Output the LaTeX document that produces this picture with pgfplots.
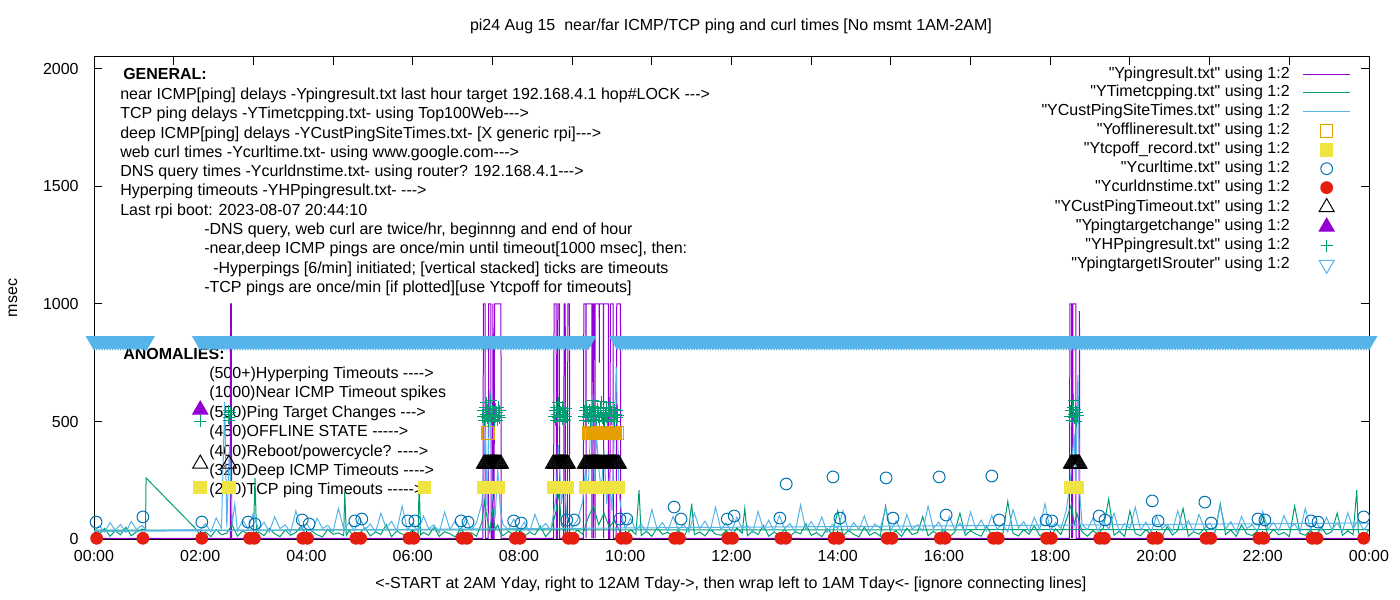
\documentclass[border=0pt]{standalone}
\usepackage{fontspec}
\setmainfont{Liberation Sans}[Ligatures=TeXOff]
\usepackage{pgfplots}
\pgfplotsset{compat=1.18}
\definecolor{gpPurple}{RGB}{148,0,211}
\definecolor{gpGreen}{RGB}{0,158,115}
\definecolor{gpLBlue}{RGB}{86,180,233}
\definecolor{gpOrange}{RGB}{230,159,0}
\definecolor{gpYellow}{RGB}{240,228,66}
\definecolor{gpBlue}{RGB}{0,114,178}
\definecolor{gpRed}{RGB}{229,30,16}
\begin{document}
\begin{tikzpicture}[font=\fontsize{12bp}{14.4bp}\selectfont]
\useasboundingbox (-70.5bp,-45.75bp) rectangle (979.5bp,404.25bp);
\begin{scope}[shift={(-70.5bp,404.25bp)},x=0.75bp,y=-0.75bp,every node/.style={inner sep=0pt}]
\node[anchor=base] at (731,31) {pi24 Aug 15\ \ near/far ICMP/TCP ping and curl times [No msmt 1AM-2AM]};
\node[anchor=base] at (731,589) {<-START at 2AM Yday, right to 12AM Tday->, then wrap left to 1AM Tday<- [ignore connecting lines]};
\node[rotate=90] at (13,298) {msec};
\node[anchor=base west,font=\fontsize{12bp}{14.4bp}\selectfont\bfseries] at (123,80) {GENERAL:};
\node[anchor=base west] at (120,100) {near ICMP[ping] delays -Ypingresult.txt last hour target 192.168.4.1 hop\#LOCK --->};
\node[anchor=base west] at (120,119) {TCP ping delays -YTimetcpping.txt- using Top100Web--->};
\node[anchor=base west] at (120,139) {deep ICMP[ping] delays -YCustPingSiteTimes.txt- [X generic rpi]--->};
\node[anchor=base west] at (120,158) {web curl times -Ycurltime.txt- using www.google.com--->};
\node[anchor=base west] at (120,177) {DNS query times -Ycurldnstime.txt- using router? 192.168.4.1--->};
\node[anchor=base west] at (120,196) {Hyperping timeouts -YHPpingresult.txt- --->};
\node[anchor=base west] at (120,216) {Last rpi boot: 2023-08-07 20:44:10};
\node[anchor=base west] at (204,235) {-DNS query, web curl are twice/hr, beginnng and end of hour};
\node[anchor=base west] at (204,254) {-near,deep ICMP pings are once/min until timeout[1000 msec], then:};
\node[anchor=base west] at (213,274) {-Hyperpings [6/min] initiated; [vertical stacked] ticks are timeouts};
\node[anchor=base west] at (204,293) {-TCP pings are once/min [if plotted][use Ytcpoff for timeouts]};
\node[anchor=base west,font=\fontsize{12bp}{14.4bp}\selectfont\bfseries] at (123,360) {ANOMALIES:};
\node[anchor=base west] at (209,379) {(500+)Hyperping Timeouts ---->};
\node[anchor=base west] at (209,398) {(1000)Near ICMP Timeout spikes};
\node[anchor=base west] at (209,418) {(550)Ping Target Changes --->};
\node[anchor=base west] at (209,437) {(450)OFFLINE STATE ----->};
\node[anchor=base west] at (209,457) {(400)Reboot/powercycle? ---->};
\node[anchor=base west] at (209,476) {(320)Deep ICMP Timeouts ---->};
\node[anchor=base west] at (209,495) {(220)TCP ping Timeouts ----->};
\end{scope}
\begin{axis}[
 at={(0,0)}, anchor=south west,
 scale only axis, width=956.25bp, height=361.5bp,
 xmin=0, xmax=24, ymin=0, ymax=2051,
 clip mode=individual,
 axis line style={line width=0.75bp},
 every tick/.style={black, line width=0.75bp},
 major tick length=6bp,
 tick align=inside,
 xtick={0,2,...,24},
 xticklabels={00:00,02:00,04:00,06:00,08:00,10:00,12:00,14:00,16:00,18:00,20:00,22:00,00:00},
 ytick={0,500,1000,1500,2000},
 yticklabels={0,500,1000,1500,2000},
 xtick pos=left, ytick pos=both, yticklabel pos=left,
 xticklabel style={yshift=-5bp},
 yticklabel style={xshift=-8bp},
 legend cell align=right,
 legend plot pos=right,
 legend style={draw=none, fill=none, at={(axis description cs:0.9856,0.9813)}, anchor=north east, inner sep=0pt, outer sep=0pt, row sep=2.2bp, column sep=9.75bp, nodes={inner sep=0pt, text height=9bp, text depth=3bp}},
 legend image code/.code={\draw[mark repeat=2,mark phase=2,#1] plot coordinates {(0bp,0bp)(17.6bp,0bp)(35.2bp,0bp)};},
]
% 1 near ICMP
\addplot[color=gpPurple, line width=0.75bp, mark=none] coordinates {
(0,3)(2.565,3)(2.57,1000)(2.585,1000)(2.59,3)
(7.32,3)(7.33,1000)(7.36,1000)(7.365,3)(7.42,3)(7.43,1000)(7.47,1000)(7.475,3)(7.50,3)(7.51,1000)(7.515,3)(7.53,3)(7.54,1000)(7.66,1000)(7.665,3)
(8.65,3)(8.66,1000)(8.70,1000)(8.705,3)(8.72,3)(8.73,1000)(8.76,1000)(8.765,3)(8.84,3)(8.85,1000)(8.87,1000)(8.875,3)(8.91,3)(8.92,1000)(8.95,1000)(8.955,3)
(9.21,3)(9.22,1000)(9.26,1000)(9.262,3)(9.265,1000)(9.37,1000)(9.372,3)(9.375,1000)(9.40,1000)(9.402,3)(9.405,1000)(9.43,1000)(9.432,3)(9.435,1000)(9.51,1000)(9.512,750)(9.515,1000)(9.59,1000)(9.592,3)(9.595,1000)(9.68,1000)(9.685,3)(9.71,3)(9.72,1000)(9.77,1000)(9.775,3)(9.83,3)(9.84,1000)(9.91,1000)(9.915,3)
(18.36,3)(18.37,1000)(18.40,1000)(18.402,3)(18.405,1000)(18.42,1000)(18.422,3)(18.425,1000)(18.48,1000)(18.485,3)(18.54,3)(18.55,970)(18.555,3)(24,3)};
\addlegendentry{"Ypingresult.txt" using 1:2}
% 2 TCP ping
\addplot[color=gpGreen, line width=0.75bp, mark=none] coordinates {
(0,38)(0.1,20)(0.2,45)(0.3,12)(0.4,35)(0.5,18)(0.6,50)(0.7,14)(0.8,30)(0.9,42)(0.97,40)(0.98,260)(1.94,38)
(2.0,15)(2.1,30)(2.2,10)(2.3,40)(2.4,18)(2.5,25)(2.6,60)(2.7,12)(2.8,35)(2.9,20)
(3.0,8)(3.03,260)(3.06,20)(3.1,30)(3.2,14)(3.3,45)(3.4,22)(3.5,10)(3.6,38)(3.7,16)(3.8,28)(3.9,55)
(4.0,12)(4.1,33)(4.2,18)(4.3,9)(4.4,42)(4.5,20)(4.6,26)(4.7,14)(4.72,200)(4.75,15)(4.8,36)(4.9,11)
(5.0,25)(5.1,48)(5.2,13)(5.3,30)(5.4,19)(5.5,62)(5.6,10)(5.7,34)(5.8,21)(5.9,15)
(6.0,40)(6.1,12)(6.12,242)(6.15,18)(6.2,28)(6.3,16)(6.4,50)(6.5,11)(6.6,31)(6.7,22)(6.8,9)(6.9,44)
(7.0,17)(7.1,27)(7.2,12)(7.3,70)(7.35,160)(7.4,90)(7.45,30)(7.5,120)(7.55,40)(7.6,60)(7.65,25)(7.7,14)
(7.8,32)(7.9,20)(8.0,45)(8.1,13)(8.2,29)(8.3,18)(8.4,55)(8.5,10)(8.6,36)(8.7,120)(8.75,200)(8.8,60)(8.9,24)
(9.0,15)(9.1,38)(9.2,20)(9.3,90)(9.4,140)(9.5,60)(9.6,110)(9.7,50)(9.8,80)(9.9,30)
(10.0,12)(10.1,40)(10.2,19)(10.26,208)(10.3,15)(10.4,33)(10.5,11)(10.6,47)(10.7,20)(10.8,28)(10.9,14)
(11.0,36)(11.1,9)(11.2,52)(11.25,150)(11.3,18)(11.4,30)(11.5,13)(11.6,42)(11.7,21)(11.8,16)(11.9,35)
(12.0,10)(12.1,48)(12.2,24)(12.25,130)(12.3,14)(12.4,33)(12.5,19)(12.6,58)(12.7,12)(12.8,29)(12.9,17)
(13.0,40)(13.1,11)(13.2,31)(13.3,22)(13.4,65)(13.5,15)(13.6,27)(13.7,10)(13.8,44)(13.9,18)
(14.0,120)(14.1,13)(14.2,37)(14.3,20)(14.4,9)(14.5,51)(14.6,16)(14.7,29)(14.8,12)(14.9,140)
(15.0,22)(15.1,34)(15.2,11)(15.3,46)(15.4,19)(15.5,27)(15.6,95)(15.7,14)(15.8,32)(15.9,18)
(16.0,41)(16.1,10)(16.2,28)(16.3,110)(16.4,15)(16.5,36)(16.6,21)(16.7,12)(16.8,54)(16.9,17)
(17.0,30)(17.1,11)(17.2,160)(17.3,24)(17.4,13)(17.5,39)(17.6,20)(17.7,57)(17.8,14)(17.9,26)
(18.0,10)(18.1,43)(18.2,19)(18.3,80)(18.4,150)(18.45,60)(18.5,110)(18.6,30)(18.7,12)(18.8,35)(18.9,21)
(19.0,48)(19.1,170)(19.2,16)(19.3,33)(19.4,11)(19.5,120)(19.6,23)(19.7,14)(19.8,40)(19.9,18)
(20.0,29)(20.1,10)(20.2,52)(20.3,17)(20.4,36)(20.5,130)(20.6,12)(20.7,31)(20.8,20)(20.9,45)
(21.0,14)(21.1,27)(21.2,150)(21.3,19)(21.4,38)(21.5,11)(21.6,60)(21.7,22)(21.8,15)(21.9,34)
(22.0,100)(22.1,13)(22.2,41)(22.3,18)(22.4,28)(22.5,10)(22.6,140)(22.7,24)(22.8,16)(22.9,37)
(23.0,12)(23.1,49)(23.2,20)(23.3,31)(23.4,110)(23.5,15)(23.6,35)(23.7,19)(23.77,208)(23.8,26)(23.9,11)(24.0,40)(0,38)};
\addlegendentry{"YTimetcpping.txt" using 1:2}
% 3 deep ICMP
\addplot[color=gpLBlue, line width=0.75bp, mark=none] coordinates {
(0,32)(0.1,55)(0.2,30)(0.3,70)(0.4,38)(0.5,62)(0.6,28)(0.7,75)(0.8,40)(0.9,58)(1.0,35)
(2.0,40)(2.1,65)(2.2,30)(2.3,90)(2.4,45)(2.46,583)(2.5,50)(2.55,400)(2.6,60)(2.65,150)(2.7,35)(2.8,80)(2.9,42)
(3.0,110)(3.1,38)(3.2,72)(3.3,30)(3.4,95)(3.5,44)(3.6,60)(3.7,28)(3.8,120)(3.9,40)
(4.0,66)(4.1,32)(4.2,88)(4.3,45)(4.4,58)(4.5,30)(4.6,130)(4.7,42)(4.8,70)(4.9,35)
(5.0,92)(5.1,40)(5.2,64)(5.3,28)(5.4,110)(5.5,46)(5.6,75)(5.7,33)(5.8,140)(5.9,38)
(6.0,68)(6.1,30)(6.2,98)(6.3,44)(6.4,60)(6.5,27)(6.6,115)(6.7,41)(6.8,78)(6.9,34)
(7.0,90)(7.1,38)(7.2,70)(7.3,150)(7.37,460)(7.4,120)(7.45,634)(7.5,180)(7.55,90)(7.6,300)(7.65,120)(7.7,60)(7.8,40)(7.9,85)
(8.0,35)(8.1,72)(8.2,30)(8.3,105)(8.4,42)(8.5,66)(8.6,38)(8.7,180)(8.74,400)(8.8,150)(8.85,250)(8.9,90)
(9.0,50)(9.1,80)(9.2,160)(9.25,300)(9.3,200)(9.37,605)(9.42,250)(9.46,440)(9.5,300)(9.55,210)(9.6,380)(9.65,150)(9.7,260)(9.75,120)(9.83,733)(9.88,200)(9.95,80)
(10.0,45)(10.1,88)(10.2,36)(10.3,64)(10.4,30)(10.5,125)(10.6,42)(10.7,70)(10.8,33)(10.9,96)
(11.0,40)(11.1,62)(11.2,29)(11.3,110)(11.4,44)(11.5,76)(11.6,35)(11.7,135)(11.8,41)(11.9,68)
(12.0,31)(12.1,92)(12.2,45)(12.3,58)(12.4,27)(12.5,118)(12.6,39)(12.7,80)(12.8,34)(12.9,100)
(13.0,43)(13.1,66)(13.2,30)(13.3,145)(13.4,40)(13.5,74)(13.6,36)(13.7,94)(13.8,28)(13.9,62)
(14.0,44)(14.1,120)(14.2,33)(14.3,70)(14.4,40)(14.5,98)(14.6,31)(14.7,64)(14.8,46)(14.9,130)
(15.0,37)(15.1,78)(15.2,29)(15.3,104)(15.4,42)(15.5,60)(15.6,34)(15.7,140)(15.8,45)(15.9,72)
(16.0,32)(16.1,96)(16.2,40)(16.3,68)(16.4,28)(16.5,115)(16.6,43)(16.7,80)(16.8,35)(16.9,100)
(17.0,41)(17.1,64)(17.2,30)(17.3,125)(17.4,46)(17.5,74)(17.6,33)(17.7,92)(17.8,39)(17.9,150)
(18.0,36)(18.1,70)(18.2,44)(18.3,120)(18.38,250)(18.45,451)(18.48,200)(18.52,698)(18.56,180)(18.6,60)(18.7,40)(18.8,88)(18.9,34)
(19.0,76)(19.1,42)(19.2,110)(19.3,30)(19.4,66)(19.5,45)(19.6,135)(19.7,38)(19.8,72)(19.9,29)
(20.0,98)(20.1,44)(20.2,62)(20.3,33)(20.4,120)(20.5,40)(20.6,78)(20.7,31)(20.8,105)(20.9,46)
(21.0,68)(21.1,35)(21.2,140)(21.3,42)(21.4,74)(21.5,30)(21.6,96)(21.7,45)(21.8,60)(21.9,32)
(22.0,118)(22.1,41)(22.2,70)(22.3,34)(22.4,100)(22.5,47)(22.6,64)(22.7,29)(22.8,130)(22.9,43)
(23.0,76)(23.1,36)(23.2,92)(23.3,40)(23.4,68)(23.5,31)(23.6,112)(23.7,45)(23.8,80)(23.9,38)(24.0,68)(0,32)};
\addlegendentry{"YCustPingSiteTimes.txt" using 1:2}
% 4 offline
\addplot[color=gpOrange, line width=0.75bp, only marks, mark=square, mark size=4.7bp] coordinates {
(7.41,450)(7.43,450)
(9.32,450)(9.34,450)(9.36,450)(9.38,450)(9.40,450)(9.42,450)(9.44,450)(9.46,450)(9.48,450)(9.50,450)(9.52,450)(9.54,450)(9.56,450)(9.58,450)(9.60,450)(9.62,450)(9.64,450)(9.66,450)(9.68,450)(9.70,450)(9.72,450)(9.74,450)(9.76,450)(9.78,450)(9.80,450)(9.82,450)(9.84,450)};
\addlegendentry{"Yofflineresult.txt" using 1:2}
% 5 tcp off
\addplot[color=gpYellow, line width=0.75bp, only marks, mark=square*, mark size=4.7bp] coordinates {
(2.0,220)(2.54,220)(6.22,220)
(7.34,220)(7.36,220)(7.38,220)(7.40,220)(7.42,220)(7.44,220)(7.46,220)(7.48,220)(7.50,220)(7.52,220)(7.54,220)(7.56,220)(7.58,220)(7.60,220)
(8.66,220)(8.68,220)(8.70,220)(8.72,220)(8.74,220)(8.76,220)(8.78,220)(8.80,220)(8.82,220)(8.84,220)(8.86,220)(8.88,220)(8.90,220)
(9.26,220)(9.28,220)(9.30,220)(9.32,220)(9.34,220)(9.36,220)(9.38,220)(9.40,220)(9.42,220)(9.44,220)(9.46,220)(9.48,220)(9.50,220)(9.52,220)(9.54,220)(9.56,220)(9.58,220)(9.60,220)(9.62,220)(9.64,220)(9.66,220)(9.68,220)(9.70,220)(9.72,220)(9.74,220)(9.76,220)(9.78,220)(9.80,220)(9.82,220)(9.84,220)(9.86,220)
(18.39,220)(18.41,220)(18.43,220)(18.45,220)(18.47,220)(18.49,220)(18.51,220)};
\addlegendentry{"Ytcpoff\_record.txt" using 1:2}
% 6 curl
\addplot[color=gpBlue, line width=0.75bp, only marks, mark=o, mark size=4.4bp] coordinates {
(0.04,72)(0.92,94)(2.03,72)(2.9,72)(3.03,64)(3.92,81)(4.05,64)(4.91,77)(5.04,85)(5.91,77)(6.04,77)(6.91,77)(7.04,72)(7.9,77)(8.04,68)(8.9,81)(9.04,81)(9.9,85)(10.03,85)(10.92,136)(11.05,85)(11.92,85)(12.05,98)(12.91,89)(13.03,234)(13.91,264)(14.04,89)(14.91,260)(15.04,89)(15.91,264)(16.04,102)(16.9,268)(17.04,81)(17.92,81)(18.03,77)(18.92,98)(19.03,81)(19.92,162)(20.03,77)(20.91,157)(21.03,68)(21.91,85)(22.04,81)(22.91,77)(23.04,72)(23.9,94)};
\addlegendentry{"Ycurltime.txt" using 1:2}
% 7 dns
\addplot[color=gpRed, line width=0.75bp, only marks, mark=*, mark size=4.4bp] coordinates {
(0.05,3)(0.92,3)(2.03,3)(2.93,3)(3.02,3)(3.93,3)(4.02,3)(4.93,3)(5.02,3)(5.93,3)(6.02,3)(6.93,3)(7.02,3)(7.93,3)(8.02,3)(8.93,3)(9.02,3)(9.93,3)(10.02,3)(10.93,3)(11.02,3)(11.93,3)(12.02,3)(12.93,3)(13.02,3)(13.93,3)(14.02,3)(14.93,3)(15.02,3)(15.93,3)(16.02,3)(16.93,3)(17.02,3)(17.93,3)(18.02,3)(18.93,3)(19.02,3)(19.93,3)(20.02,3)(20.93,3)(21.02,3)(21.93,3)(22.02,3)(22.93,3)(23.02,3)(23.9,3)};
\addlegendentry{"Ycurldnstime.txt" using 1:2}
% 8 deep ICMP timeouts
\addplot[color=black, line width=0.75bp, only marks, mark=triangle, mark size=6.5bp] coordinates {
(2.0,320)(2.54,320)
(7.34,320)(7.36,320)(7.38,320)(7.40,320)(7.42,320)(7.44,320)(7.46,320)(7.48,320)(7.50,320)(7.52,320)(7.54,320)(7.56,320)(7.58,320)(7.60,320)(7.62,320)(7.64,320)(7.66,320)
(8.64,320)(8.66,320)(8.68,320)(8.70,320)(8.72,320)(8.74,320)(8.76,320)(8.78,320)(8.80,320)(8.82,320)(8.84,320)(8.86,320)(8.88,320)(8.90,320)(8.92,320)
(9.24,320)(9.26,320)(9.28,320)(9.30,320)(9.32,320)(9.34,320)(9.36,320)(9.38,320)(9.40,320)(9.42,320)(9.44,320)(9.46,320)(9.48,320)(9.50,320)(9.52,320)(9.54,320)(9.56,320)(9.58,320)(9.60,320)(9.62,320)(9.64,320)(9.66,320)(9.68,320)(9.70,320)(9.72,320)(9.74,320)(9.76,320)(9.78,320)(9.80,320)(9.82,320)(9.84,320)(9.86,320)(9.88,320)
(18.39,320)(18.41,320)(18.43,320)(18.45,320)(18.47,320)(18.49,320)(18.51,320)(18.53,320)(18.55,320)};
\addlegendentry{"YCustPingTimeout.txt" using 1:2}
% 9 target change
\addplot[color=gpPurple, line width=0.75bp, only marks, mark=triangle*, mark size=6.5bp] coordinates {(2.0,550)};
\addlegendentry{"Ypingtargetchange" using 1:2}
% 10 hyperping
\addplot[color=gpGreen, line width=0.75bp, only marks, mark=+, mark size=4.5bp] coordinates {
(2.0,502)(2.54,545)(2.54,530)(2.54,515)(2.55,505)(2.56,538)
(7.32,520)(7.33,545)(7.35,505)(7.36,560)(7.38,530)(7.40,515)(7.41,550)(7.43,500)(7.44,540)(7.46,525)(7.47,565)(7.49,510)(7.50,545)(7.52,530)(7.53,500)(7.55,555)(7.56,520)(7.58,540)(7.59,505)(7.61,560)(7.62,525)(7.64,515)(7.64,545)(7.38,580)(7.47,590)
(8.66,520)(8.67,545)(8.69,505)(8.70,560)(8.72,530)(8.73,515)(8.75,550)(8.76,500)(8.78,540)(8.79,525)(8.81,560)(8.82,510)(8.84,545)(8.85,530)(8.87,505)(8.88,555)(8.89,520)(8.74,580)
(9.22,520)(9.24,545)(9.25,505)(9.27,560)(9.29,530)(9.30,515)(9.32,550)(9.34,500)(9.35,540)(9.37,525)(9.39,565)(9.40,510)(9.42,545)(9.44,530)(9.45,505)(9.47,555)(9.49,520)(9.50,540)(9.52,505)(9.54,560)(9.55,525)(9.57,515)(9.59,545)(9.60,500)(9.62,535)(9.64,555)(9.65,520)(9.67,505)(9.69,545)(9.70,530)(9.72,560)(9.74,510)(9.75,540)(9.77,525)(9.79,500)(9.80,550)(9.82,530)(9.84,515)(9.85,545)(9.86,525)(9.40,590)(9.55,585)(9.70,580)
(18.37,520)(18.39,545)(18.40,505)(18.42,560)(18.44,530)(18.45,515)(18.47,550)(18.49,500)(18.50,540)(18.52,525)(18.44,590)};
\addlegendentry{"YHPpingresult.txt" using 1:2}
% 11 target is router
\addplot[color=gpLBlue, line width=0.75bp, only marks, mark=triangle*, mark size=6.5bp, mark options={rotate=180}, legend image post style={mark=triangle}] coordinates {
(0,843)(0.05,843)(0.1,843)(0.15,843)(0.2,843)(0.25,843)(0.3,843)(0.35,843)(0.4,843)(0.45,843)(0.5,843)(0.55,843)(0.6,843)(0.65,843)(0.7,843)(0.75,843)(0.8,843)(0.85,843)(0.9,843)(0.95,843)(0.99,843)
(2,843)(2.05,843)(2.1,843)(2.15,843)(2.2,843)(2.25,843)(2.3,843)(2.35,843)(2.4,843)(2.45,843)(2.5,843)(2.55,843)(2.6,843)(2.65,843)(2.7,843)(2.75,843)(2.8,843)(2.85,843)(2.9,843)(2.95,843)
(3,843)(3.05,843)(3.1,843)(3.15,843)(3.2,843)(3.25,843)(3.3,843)(3.35,843)(3.4,843)(3.45,843)(3.5,843)(3.55,843)(3.6,843)(3.65,843)(3.7,843)(3.75,843)(3.8,843)(3.85,843)(3.9,843)(3.95,843)
(4,843)(4.05,843)(4.1,843)(4.15,843)(4.2,843)(4.25,843)(4.3,843)(4.35,843)(4.4,843)(4.45,843)(4.5,843)(4.55,843)(4.6,843)(4.65,843)(4.7,843)(4.75,843)(4.8,843)(4.85,843)(4.9,843)(4.95,843)
(5,843)(5.05,843)(5.1,843)(5.15,843)(5.2,843)(5.25,843)(5.3,843)(5.35,843)(5.4,843)(5.45,843)(5.5,843)(5.55,843)(5.6,843)(5.65,843)(5.7,843)(5.75,843)(5.8,843)(5.85,843)(5.9,843)(5.95,843)
(6,843)(6.05,843)(6.1,843)(6.15,843)(6.2,843)(6.25,843)(6.3,843)(6.35,843)(6.4,843)(6.45,843)(6.5,843)(6.55,843)(6.6,843)(6.65,843)(6.7,843)(6.75,843)(6.8,843)(6.85,843)(6.9,843)(6.95,843)
(7,843)(7.05,843)(7.1,843)(7.15,843)(7.2,843)(7.25,843)(7.3,843)(7.35,843)(7.4,843)(7.45,843)(7.5,843)(7.55,843)(7.6,843)(7.65,843)(7.7,843)(7.75,843)(7.8,843)(7.85,843)(7.9,843)(7.95,843)
(8,843)(8.05,843)(8.1,843)(8.15,843)(8.2,843)(8.25,843)(8.3,843)(8.35,843)(8.4,843)(8.45,843)(8.5,843)(8.55,843)(8.6,843)(8.65,843)(8.7,843)(8.75,843)(8.8,843)(8.85,843)(8.9,843)(8.95,843)
(9,843)(9.05,843)(9.1,843)(9.15,843)(9.2,843)(9.25,843)(9.3,843)
(9.85,843)(9.9,843)(9.95,843)
(10,843)(10.05,843)(10.1,843)(10.15,843)(10.2,843)(10.25,843)(10.3,843)(10.35,843)(10.4,843)(10.45,843)(10.5,843)(10.55,843)(10.6,843)(10.65,843)(10.7,843)(10.75,843)(10.8,843)(10.85,843)(10.9,843)(10.95,843)
(11,843)(11.05,843)(11.1,843)(11.15,843)(11.2,843)(11.25,843)(11.3,843)(11.35,843)(11.4,843)(11.45,843)(11.5,843)(11.55,843)(11.6,843)(11.65,843)(11.7,843)(11.75,843)(11.8,843)(11.85,843)(11.9,843)(11.95,843)
(12,843)(12.05,843)(12.1,843)(12.15,843)(12.2,843)(12.25,843)(12.3,843)(12.35,843)(12.4,843)(12.45,843)(12.5,843)(12.55,843)(12.6,843)(12.65,843)(12.7,843)(12.75,843)(12.8,843)(12.85,843)(12.9,843)(12.95,843)
(13,843)(13.05,843)(13.1,843)(13.15,843)(13.2,843)(13.25,843)(13.3,843)(13.35,843)(13.4,843)(13.45,843)(13.5,843)(13.55,843)(13.6,843)(13.65,843)(13.7,843)(13.75,843)(13.8,843)(13.85,843)(13.9,843)(13.95,843)
(14,843)(14.05,843)(14.1,843)(14.15,843)(14.2,843)(14.25,843)(14.3,843)(14.35,843)(14.4,843)(14.45,843)(14.5,843)(14.55,843)(14.6,843)(14.65,843)(14.7,843)(14.75,843)(14.8,843)(14.85,843)(14.9,843)(14.95,843)
(15,843)(15.05,843)(15.1,843)(15.15,843)(15.2,843)(15.25,843)(15.3,843)(15.35,843)(15.4,843)(15.45,843)(15.5,843)(15.55,843)(15.6,843)(15.65,843)(15.7,843)(15.75,843)(15.8,843)(15.85,843)(15.9,843)(15.95,843)
(16,843)(16.05,843)(16.1,843)(16.15,843)(16.2,843)(16.25,843)(16.3,843)(16.35,843)(16.4,843)(16.45,843)(16.5,843)(16.55,843)(16.6,843)(16.65,843)(16.7,843)(16.75,843)(16.8,843)(16.85,843)(16.9,843)(16.95,843)
(17,843)(17.05,843)(17.1,843)(17.15,843)(17.2,843)(17.25,843)(17.3,843)(17.35,843)(17.4,843)(17.45,843)(17.5,843)(17.55,843)(17.6,843)(17.65,843)(17.7,843)(17.75,843)(17.8,843)(17.85,843)(17.9,843)(17.95,843)
(18,843)(18.05,843)(18.1,843)(18.15,843)(18.2,843)(18.25,843)(18.3,843)(18.35,843)(18.4,843)(18.45,843)(18.5,843)(18.55,843)(18.6,843)(18.65,843)(18.7,843)(18.75,843)(18.8,843)(18.85,843)(18.9,843)(18.95,843)
(19,843)(19.05,843)(19.1,843)(19.15,843)(19.2,843)(19.25,843)(19.3,843)(19.35,843)(19.4,843)(19.45,843)(19.5,843)(19.55,843)(19.6,843)(19.65,843)(19.7,843)(19.75,843)(19.8,843)(19.85,843)(19.9,843)(19.95,843)
(20,843)(20.05,843)(20.1,843)(20.15,843)(20.2,843)(20.25,843)(20.3,843)(20.35,843)(20.4,843)(20.45,843)(20.5,843)(20.55,843)(20.6,843)(20.65,843)(20.7,843)(20.75,843)(20.8,843)(20.85,843)(20.9,843)(20.95,843)
(21,843)(21.05,843)(21.1,843)(21.15,843)(21.2,843)(21.25,843)(21.3,843)(21.35,843)(21.4,843)(21.45,843)(21.5,843)(21.55,843)(21.6,843)(21.65,843)(21.7,843)(21.75,843)(21.8,843)(21.85,843)(21.9,843)(21.95,843)
(22,843)(22.05,843)(22.1,843)(22.15,843)(22.2,843)(22.25,843)(22.3,843)(22.35,843)(22.4,843)(22.45,843)(22.5,843)(22.55,843)(22.6,843)(22.65,843)(22.7,843)(22.75,843)(22.8,843)(22.85,843)(22.9,843)(22.95,843)
(23,843)(23.05,843)(23.1,843)(23.15,843)(23.2,843)(23.25,843)(23.3,843)(23.35,843)(23.4,843)(23.45,843)(23.5,843)(23.55,843)(23.6,843)(23.65,843)(23.7,843)(23.75,843)(23.8,843)(23.85,843)(23.9,843)(23.95,843)
(24,843)(24.05,843)(24.1,843)(24.13,843)};
\addlegendentry{"YpingtargetISrouter" using 1:2}
\pgfplotsinvokeforeach{1.5,3,...,22.5}{\draw[line width=0.75bp] (axis cs:#1,2051) -- ([yshift=-6bp]axis cs:#1,2051);}
\end{axis}
\end{tikzpicture}
\end{document}
